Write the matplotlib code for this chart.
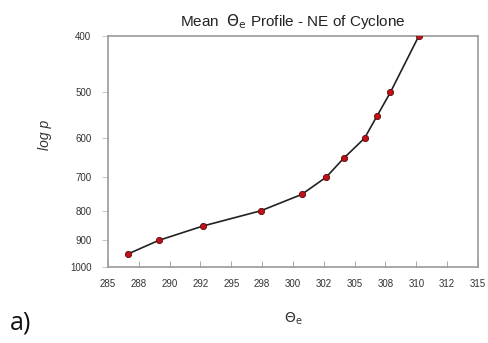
import numpy as np
import matplotlib
matplotlib.use("Agg")
import matplotlib.pyplot as plt
from matplotlib.ticker import FixedLocator, NullLocator

# mean theta-e profile, NE of cyclone
theta_e = [286.6, 289.1, 292.7, 297.4, 300.7, 302.7, 304.1, 305.8, 306.8, 307.9, 310.2]
pres = [950, 900, 850, 800, 750, 700, 650, 600, 550, 500, 400]

xticks = [285, 287.5, 290, 292.5, 295, 297.5, 300, 302.5, 305, 307.5, 310, 312.5, 315]
xlabels = ['285', '288', '290', '292', '295', '298', '300', '302', '305', '308', '310', '312', '315']
yticks = [400, 500, 600, 700, 800, 900, 1000]

plt.rcParams['font.family'] = ['Liberation Sans', 'DejaVu Sans']

fig = plt.figure(figsize=(4.88, 3.43), dpi=100)
ax = fig.add_axes([0.2213, 0.2216, 0.7582, 0.6734])

ax.plot(theta_e, pres, '-', color='#222222', lw=1.2, zorder=2)
ax.plot(theta_e, pres, 'o', ms=4.5, mfc='#c0111a', mec='#5a0a0a', mew=0.6, zorder=3)

ax.set_yscale('log')
ax.set_ylim(1000, 400)
ax.set_xlim(285, 315)

ax.yaxis.set_major_locator(FixedLocator(yticks))
ax.yaxis.set_minor_locator(NullLocator())
ax.set_yticklabels([str(v) for v in yticks])
ax.set_xticks(xticks)
ax.set_xticklabels(xlabels)

for s in ax.spines.values():
    s.set_color('#9a9a9a')
    s.set_linewidth(1.2)

ax.tick_params(axis='x', direction='in', length=4, width=0.6, color='#9a9a9a',
               labelsize=7, labelcolor='#333333', pad=9)
ax.tick_params(axis='y', direction='out', length=4, width=0.6, color='#bbbbbb',
               labelsize=7, labelcolor='#333333', pad=8)

ax.set_title('Mean  $\\Theta_{\\mathrm{e}}$ Profile - NE of Cyclone', fontsize=11,
             color='#222222', pad=7)
ax.set_xlabel('$\\Theta_{\\mathrm{e}}$', fontsize=10, color='#333333', labelpad=15)
ax.set_ylabel('log p', fontsize=10, style='italic', color='#333333')
ax.yaxis.set_label_coords(-0.152, 0.57)

fig.text(0.02, 0.04, 'a)', fontsize=18, family=['Open Sans', 'DejaVu Sans'], color='#111111')

fig.savefig('out.png', dpi=100)
